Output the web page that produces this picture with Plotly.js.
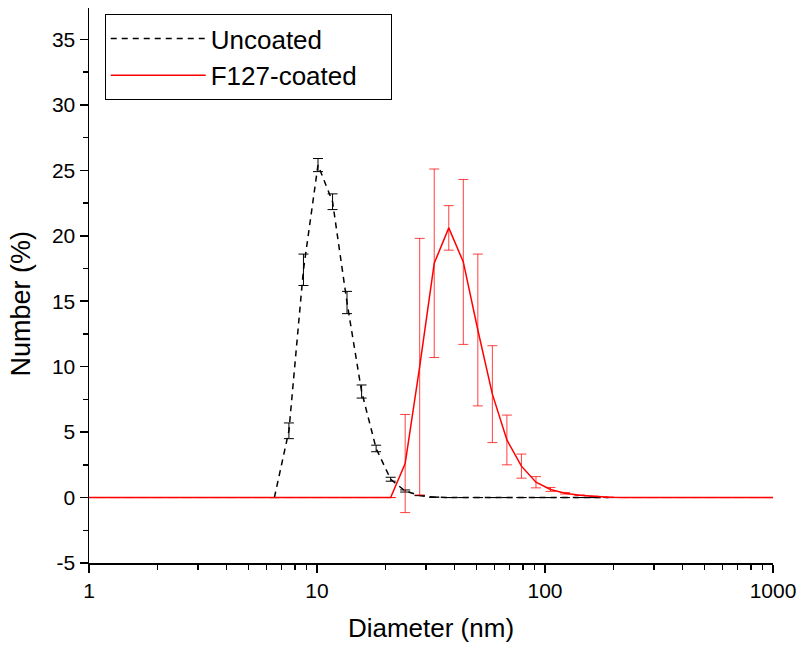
<!DOCTYPE html>
<html>
<head>
<meta charset="utf-8">
<script src="https://cdn.plot.ly/plotly-3.0.1.min.js"></script>
<style>html,body{margin:0;padding:0;background:#fff;}#chart{width:800px;height:654px;}</style>
</head>
<body>
<div id="chart"></div>
<script>
// Uncoated (black, dashed)
var uncoatedD = [6.503, 7.531, 8.721, 10.1, 11.7, 13.54, 15.69, 18.17, 21.04, 24.36, 28.21, 32.67, 37.84, 43.82, 50.75, 58.77, 68.06, 78.82, 91.28, 105.7, 122.4, 141.8, 164.2, 190.1];
var uncoatedN = [0, 5.1, 17.4, 25.4, 22.6, 14.9, 8.1, 3.75, 1.4, 0.5, 0.15, 0.03, 0, 0, 0, 0, 0, 0, 0, 0, 0, 0, 0, 0];
var uncoatedErr = [0, 0.6, 1.2, 0.5, 0.6, 0.85, 0.5, 0.25, 0.15, 0.08, 0, 0, 0, 0, 0, 0, 0, 0, 0, 0, 0, 0, 0, 0];

// F127-coated (red, solid)
var coatedD = [0.965, 1.117, 1.294, 1.499, 1.736, 2.01, 2.328, 2.696, 3.122, 3.615, 4.187, 4.849, 5.615, 6.503, 7.531, 8.721, 10.1, 11.7, 13.54, 15.69, 18.17, 21.04, 24.36, 28.21, 32.67, 37.84, 43.82, 50.75, 58.77, 68.06, 78.82, 91.28, 105.7, 122.4, 141.8, 164.2, 190.1, 220.2, 255, 295.3, 342, 396.1, 458.7, 531.2, 615.1, 712.4, 825, 955.4, 1106];
var coatedN = [0, 0, 0, 0, 0, 0, 0, 0, 0, 0, 0, 0, 0, 0, 0, 0, 0, 0, 0, 0, 0, 0, 2.6, 10.0, 17.9, 20.6, 18.0, 12.8, 7.9, 4.4, 2.4, 1.17, 0.62, 0.33, 0.18, 0.09, 0.03, 0, 0, 0, 0, 0, 0, 0, 0, 0, 0, 0, 0];
var coatedErr = [0, 0, 0, 0, 0, 0, 0, 0, 0, 0, 0, 0, 0, 0, 0, 0, 0, 0, 0, 0, 0, 0, 3.75, 9.8, 7.2, 1.7, 6.3, 5.8, 3.7, 1.9, 0.92, 0.43, 0.15, 0.06, 0, 0, 0, 0, 0, 0, 0, 0, 0, 0, 0, 0, 0, 0, 0];

var xTickVals = [1, 10, 100, 1000];
var xTickText = ['1', '10', '100', '1000'];
var yTickVals = [-5, 0, 5, 10, 15, 20, 25, 30, 35];
var yTickText = ['-5', '0', '5', '10', '15', '20', '25', '30', '35'];
var seriesNames = ['Uncoated', 'F127-coated'];
var xTitle = 'Diameter (nm)';
var yTitle = 'Number (%)';

var minorX = [];
[1, 10, 100].forEach(function (dec) { for (var k = 2; k <= 9; k++) minorX.push(k * dec); });

var font = 'Liberation Sans, Arial, sans-serif';
var pad = '\u00a0\u00a0\u00a0\u00a0';

var traces = [
  {
    x: uncoatedD, y: uncoatedN, name: seriesNames[0] + pad, type: 'scatter', mode: 'lines',
    line: {color: '#000000', width: 1.5, dash: '6px,5px'},
    error_y: {type: 'data', array: uncoatedErr, visible: true, color: '#000000', thickness: 1, width: 5}
  },
  {
    x: coatedD, y: coatedN, name: seriesNames[1] + pad, type: 'scatter', mode: 'lines',
    line: {color: '#ff0000', width: 1.5},
    error_y: {type: 'data', array: coatedErr, visible: true, color: 'rgba(255,0,0,0.75)', thickness: 1, width: 5}
  }
];

var layout = {
  width: 800, height: 654,
  margin: {l: 89, r: 27, t: 8, b: 91},
  paper_bgcolor: '#ffffff', plot_bgcolor: '#ffffff',
  font: {family: font, color: '#000000', size: 21},
  showlegend: true,
  legend: {
    x: 0.023, y: 0.989, xanchor: 'left', yanchor: 'top',
    bordercolor: '#000000', borderwidth: 1, bgcolor: '#ffffff',
    font: {family: font, size: 26, color: '#000000'},
    itemwidth: 95, tracegroupgap: 0
  },
  xaxis: {
    type: 'log', range: [0, 3],
    tickmode: 'array', tickvals: xTickVals, ticktext: xTickText,
    ticks: 'outside', ticklen: 8, tickwidth: 1.5, tickcolor: '#000',
    minor: {tickmode: 'array', tickvals: minorX, ticks: 'outside', ticklen: 5, tickwidth: 1.5, tickcolor: '#000', showgrid: false},
    showline: true, linecolor: '#000', linewidth: 1.5, mirror: false,
    showgrid: false, zeroline: false,
    tickfont: {family: font, size: 21},
    title: {text: xTitle, font: {family: font, size: 26}, standoff: 18}
  },
  yaxis: {
    range: [-5, 37.4],
    tickmode: 'array', tickvals: yTickVals, ticktext: yTickText,
    ticks: 'outside', ticklen: 8, tickwidth: 1.5, tickcolor: '#000',
    minor: {tick0: 0, dtick: 2.5, ticks: 'outside', ticklen: 5, tickwidth: 1.5, tickcolor: '#000', showgrid: false},
    showline: true, linecolor: '#000', linewidth: 1.5, mirror: false,
    showgrid: false, zeroline: false,
    tickfont: {family: font, size: 21}
  },
  annotations: [{
    text: yTitle, xref: 'paper', yref: 'paper', x: 0, y: 0.5,
    xanchor: 'center', yanchor: 'middle', textangle: -90,
    xshift: -69, yshift: -18, showarrow: false,
    font: {family: font, size: 27, color: '#000000'}
  }]
};

Plotly.newPlot('chart', traces, layout, {displayModeBar: false, staticPlot: true});
</script>
</body>
</html>
